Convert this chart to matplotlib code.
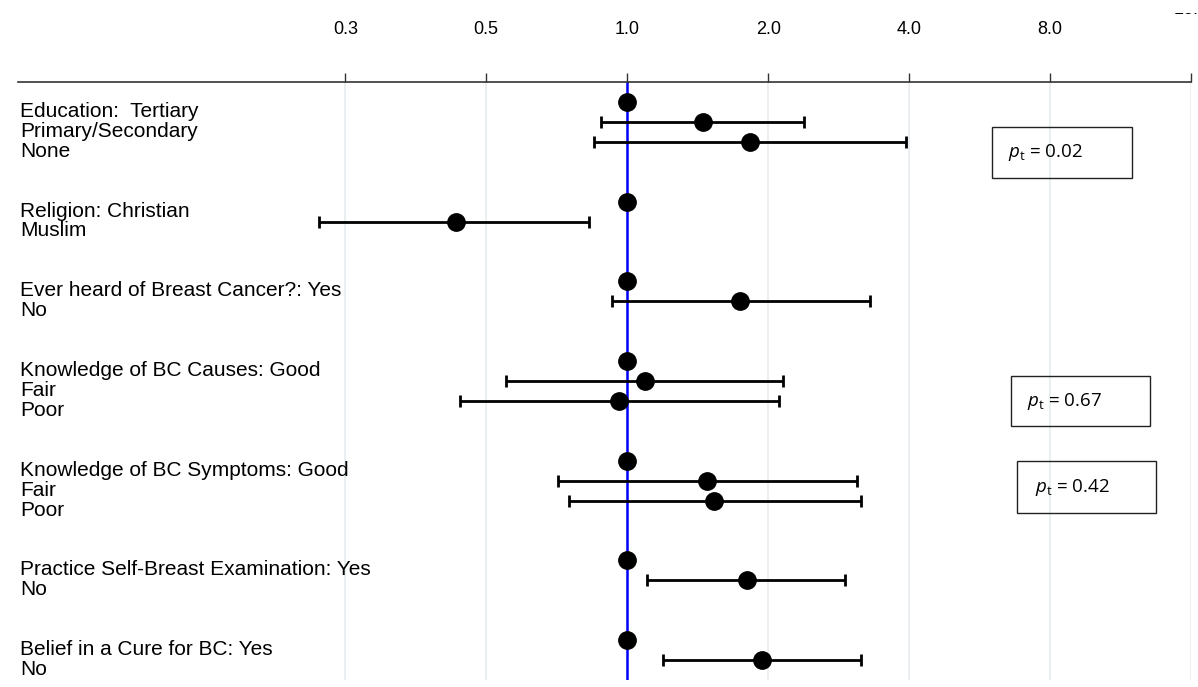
import matplotlib
matplotlib.use("Agg")
import matplotlib.pyplot as plt
from matplotlib.patches import Rectangle
from matplotlib.transforms import blended_transform_factory, Bbox
import numpy as np

# ---- data ----
labels = ["Education:  Tertiary", "Primary/Secondary", "None",
          "Religion: Christian", "Muslim",
          "Ever heard of Breast Cancer?: Yes", "No",
          "Knowledge of BC Causes: Good", "Fair", "Poor",
          "Knowledge of BC Symptoms: Good", "Fair", "Poor",
          "Practice Self-Breast Examination: Yes", "No",
          "Belief in a Cure for BC: Yes", "No"]
row_pos = [0, 1, 2, 5, 6, 9, 10, 13, 14, 15, 18, 19, 20, 23, 24, 27, 28]
odds_ratio = [1.0, 1.45, 1.83, 1.0, 0.43, 1.0, 1.74, 1.0, 1.09, 0.96,
              1.0, 1.48, 1.53, 1.0, 1.80, 1.0, 1.94]
ci_low = [np.nan, 0.88, 0.85, np.nan, 0.22, np.nan, 0.93, np.nan, 0.55, 0.44,
          np.nan, 0.71, 0.75, np.nan, 1.10, np.nan, 1.19]
ci_high = [np.nan, 2.39, 3.94, np.nan, 0.83, np.nan, 3.30, np.nan, 2.15, 2.11,
           np.nan, 3.10, 3.16, np.nan, 2.92, np.nan, 3.16]
tick_values = [0.25, 0.5, 1.0, 2.0, 4.0, 8.0, 16.0]
tick_labels = ["0.3", "0.5", "1.0", "2.0", "4.0", "8.0", ""]
p_trend = [0.02, 0.67, 0.42]

plt.rcParams["mathtext.fontset"] = "custom"
plt.rcParams["mathtext.rm"] = "Open Sans"
plt.rcParams["mathtext.it"] = "Open Sans:italic"

W, H = 1198, 687
fig = plt.figure(figsize=(W / 100, H / 100), dpi=100)
ax_l, ax_r, ax_t, ax_b = 18, 1191, 82, 680
ax = fig.add_axes([ax_l / W, 1 - ax_b / H, (ax_r - ax_l) / W, (ax_b - ax_t) / H])

ax.set_xscale("log", base=2)
ax.set_xlim(0.05, 16)
ax.set_ylim(29, -1)

for s in ["left", "right", "bottom"]:
    ax.spines[s].set_visible(False)
ax.spines["top"].set_color("#333333")
ax.spines["top"].set_linewidth(1.2)

ax.xaxis.set_ticks_position("top")
ax.xaxis.set_label_position("top")
ax.set_xticks(tick_values)
ax.set_xticklabels(tick_labels, fontsize=13, fontfamily="Liberation Sans")
ax.xaxis.set_minor_locator(matplotlib.ticker.NullLocator())
ax.tick_params(axis="x", direction="out", length=6.5, width=1.0, color="#333333", pad=25)
ax.set_yticks([])

for tv in tick_values:
    ax.axvline(tv, color="#e8eef0", lw=1.3, zorder=0)

ax.axvline(1.0, color="#0000ff", lw=1.8, zorder=1)

or_arr = np.array(odds_ratio)
lo = np.array(ci_low)
hi = np.array(ci_high)
has_ci = ~np.isnan(lo)
pos = np.array(row_pos, dtype=float)
ax.errorbar(or_arr[has_ci], pos[has_ci],
            xerr=[or_arr[has_ci] - lo[has_ci], hi[has_ci] - or_arr[has_ci]],
            fmt="none", ecolor="black", elinewidth=2.0, capsize=4.3, capthick=2.0, zorder=2)
ax.plot(or_arr, pos, "o", color="black", markersize=12.5, zorder=3)

tr = blended_transform_factory(ax.transAxes, ax.transData)
for lab, p in zip(labels, row_pos):
    ax.text((20 - ax_l) / (ax_r - ax_l), p + 0.75, lab, transform=tr, ha="left", va="baseline",
            fontsize=15, fontfamily="Liberation Sans")

# partially clipped 16.0 label at top right (as in the reference)
t16 = fig.text(ax_r / W, 1 - 18 / H, "16.0", ha="center", va="bottom", fontsize=13,
               fontfamily="Liberation Sans")
t16.set_clip_box(Bbox.from_extents(0, 0, W, H - 13))
t16.set_clip_on(True)

# p-trend boxes
boxes = [(992, 127, 1132, 178), (1011, 376, 1150, 426), (1017, 461, 1156, 513)]
text_x = [1008, 1027, 1035]
for (x0, y0, x1, y1), tx, pv in zip(boxes, text_x, p_trend):
    fig.add_artist(Rectangle((x0 / W, 1 - y1 / H), (x1 - x0) / W, (y1 - y0) / H,
                             transform=fig.transFigure, fill=False, edgecolor="#222222", lw=1.0))
    fig.text(tx / W, 1 - ((y0 + y1) / 2) / H, r"$p_{\mathrm{t}}$" + f" = {pv:.2f}",
             ha="left", va="center", fontsize=13.5, fontfamily="Open Sans")

fig.savefig("out.png", dpi=100)
